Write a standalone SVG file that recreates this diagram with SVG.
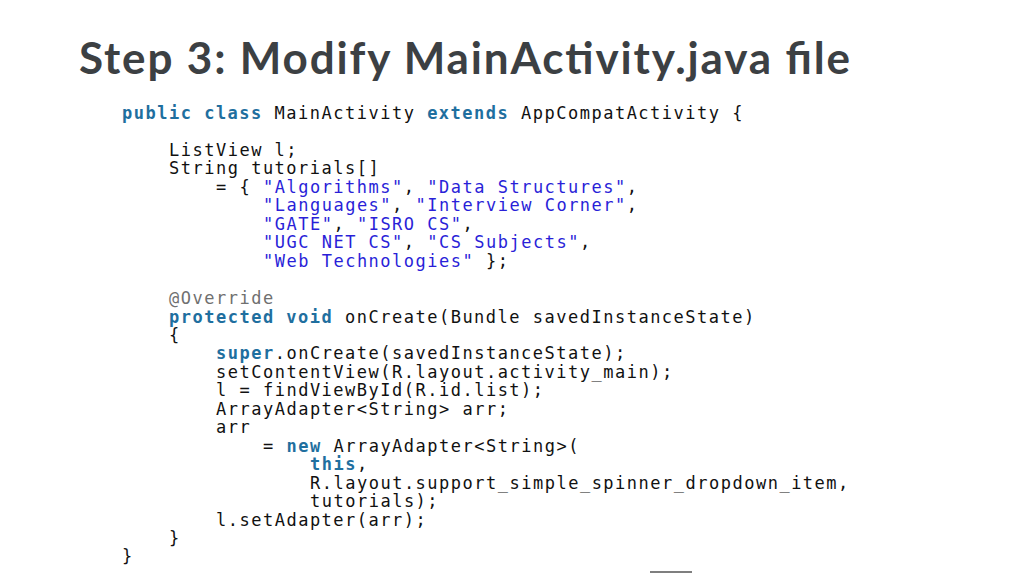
<svg xmlns="http://www.w3.org/2000/svg" width="1024" height="576" viewBox="0 0 1024 576">
<style>
.t{font-family:Lato,"Open Sans",sans-serif;font-weight:bold;font-size:44px;fill:#3c4043}
.c{font-family:"DejaVu Sans Mono","Liberation Mono",monospace;font-size:17px;fill:#111;letter-spacing:1.5px}
.k{fill:#1f6f9f;font-weight:bold}
.s{fill:#2a1fd8}
.a{fill:#707070}
</style>
<rect width="1024" height="576" fill="#fff"/>
<text class="t" x="79" y="74" textLength="771">Step 3: Modify MainActivity.java file</text>
<g class="c">
<text x="122" y="119"><tspan class="k">public class</tspan> MainActivity <tspan class="k">extends</tspan> AppCompatActivity {</text>
<text x="169" y="156">ListView l;</text>
<text x="169" y="174">String tutorials[]</text>
<text x="216" y="193">= { <tspan class="s">"Algorithms"</tspan>, <tspan class="s">"Data Structures"</tspan>,</text>
<text x="263" y="211"><tspan class="s">"Languages"</tspan>, <tspan class="s">"Interview Corner"</tspan>,</text>
<text x="263" y="230"><tspan class="s">"GATE"</tspan>, <tspan class="s">"ISRO CS"</tspan>,</text>
<text x="263" y="248"><tspan class="s">"UGC NET CS"</tspan>, <tspan class="s">"CS Subjects"</tspan>,</text>
<text x="263" y="267"><tspan class="s">"Web Technologies"</tspan> };</text>
<text x="169" y="304" class="a">@Override</text>
<text x="169" y="323"><tspan class="k">protected void</tspan> onCreate(Bundle savedInstanceState)</text>
<text x="169" y="341">{</text>
<text x="216" y="359"><tspan class="k">super</tspan>.onCreate(savedInstanceState);</text>
<text x="216" y="378">setContentView(R.layout.activity_main);</text>
<text x="216" y="396">l = findViewById(R.id.list);</text>
<text x="216" y="415">ArrayAdapter&lt;String&gt; arr;</text>
<text x="216" y="433">arr</text>
<text x="263" y="452">= <tspan class="k">new</tspan> ArrayAdapter&lt;String&gt;(</text>
<text x="310" y="470" class="k">this<tspan style="fill:#111;font-weight:normal">,</tspan></text>
<text x="310" y="489">R.layout.support_simple_spinner_dropdown_item,</text>
<text x="310" y="507">tutorials);</text>
<text x="216" y="526">l.setAdapter(arr);</text>
<text x="169" y="544">}</text>
<text x="122" y="562">}</text>
</g>
<line x1="650" y1="572" x2="692" y2="572" stroke="#555" stroke-width="1.5"/>
</svg>
